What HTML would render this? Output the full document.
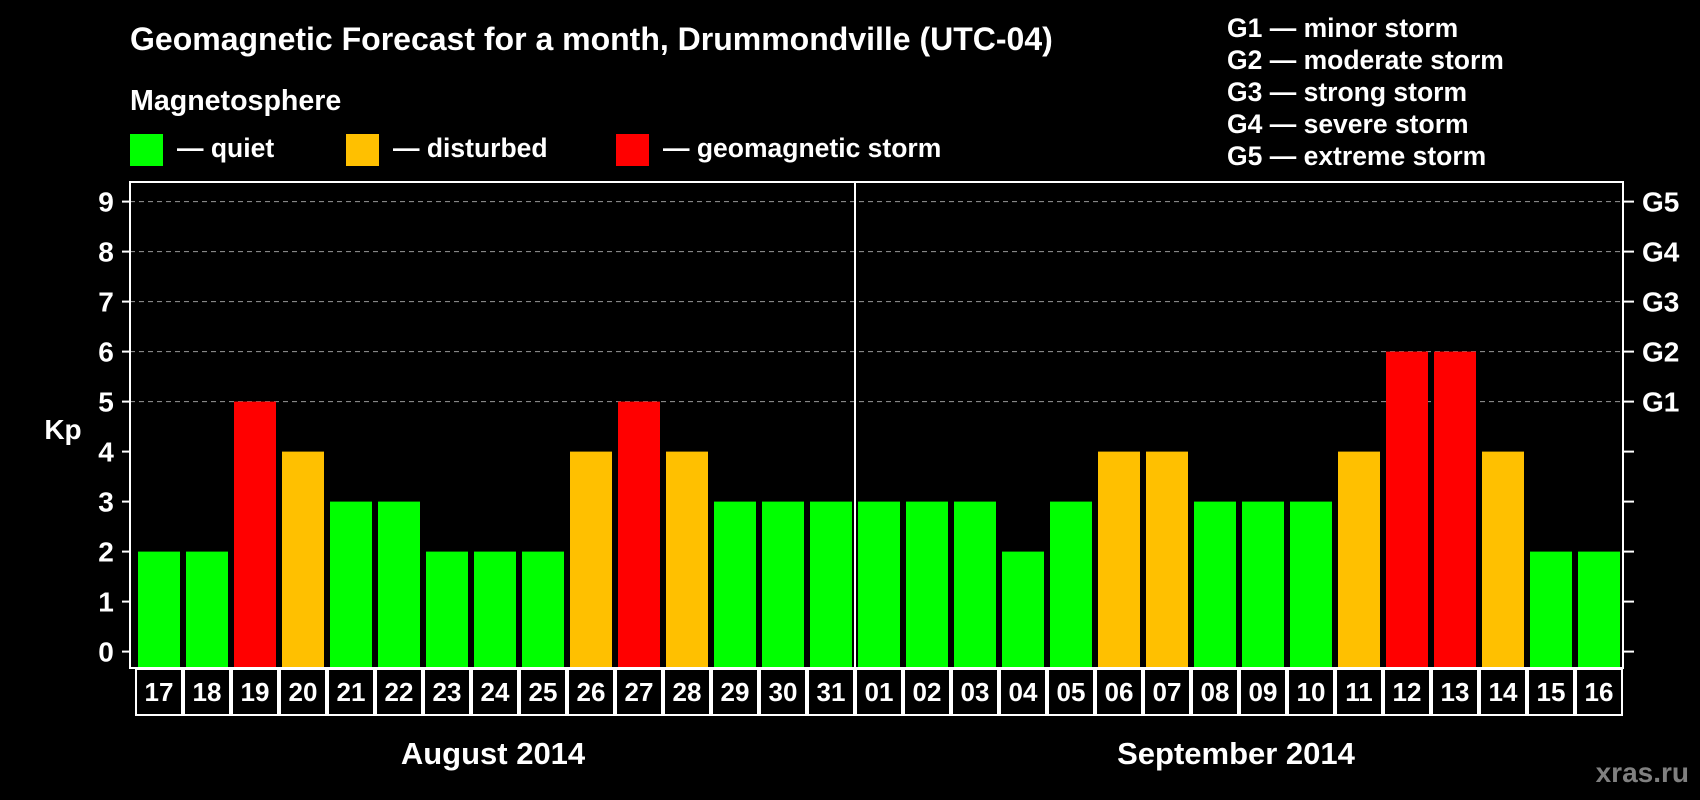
<!DOCTYPE html>
<html><head><meta charset="utf-8"><style>
html,body{margin:0;padding:0;background:#000;}
svg{display:block;font-family:"Liberation Sans",Arial,sans-serif;font-weight:bold;}
</style></head><body>
<svg id="chart" width="1700" height="800" viewBox="0 0 1700 800">
<rect x="0" y="0" width="1700" height="800" fill="#000"/>
<text x="130" y="50" fill="#fff" font-size="32">Geomagnetic Forecast for a month, Drummondville (UTC-04)</text>
<text x="130" y="110" fill="#fff" font-size="28.6">Magnetosphere</text>
<g><rect x="130" y="134" width="33" height="32" fill="#00ff00"/><text x="177" y="157" fill="#fff" font-size="26.5">— quiet</text></g>
<g><rect x="346" y="134" width="33" height="32" fill="#ffc000"/><text x="393" y="157" fill="#fff" font-size="26.5">— disturbed</text></g>
<g><rect x="616" y="134" width="33" height="32" fill="#ff0000"/><text x="663" y="157" fill="#fff" font-size="26.5">— geomagnetic storm</text></g>
<g fill="#fff" font-size="26.5">
<text x="1227" y="37">G1 — minor storm</text>
<text x="1227" y="69">G2 — moderate storm</text>
<text x="1227" y="101">G3 — strong storm</text>
<text x="1227" y="133">G4 — severe storm</text>
<text x="1227" y="165">G5 — extreme storm</text>
</g>
<g id="plot"></g>
<text x="493" y="764" fill="#fff" font-size="31" text-anchor="middle">August 2014</text>
<text x="1236" y="764" fill="#fff" font-size="31" text-anchor="middle">September 2014</text>
<text x="1689" y="782" fill="#808080" font-size="28" text-anchor="end">xras.ru</text>
</svg>
<script>
const days = ["17","18","19","20","21","22","23","24","25","26","27","28","29","30","31","01","02","03","04","05","06","07","08","09","10","11","12","13","14","15","16"];
const kpValues = [2,2,5,4,3,3,2,2,2,4,5,4,3,3,3,3,3,3,2,3,4,4,3,3,3,4,6,6,4,2,2];
const yTicks = [0,1,2,3,4,5,6,7,8,9];
const gLabels = ["G1","G2","G3","G4","G5"];
const gLevels = [5,6,7,8,9];

(function(){
const NS = "http://www.w3.org/2000/svg";
const plot = document.getElementById('plot');
const pLeft = 130, pRight = 1623, pTop = 182, pBottom = 668;
const y0 = 651.6, unit = 50;
const barX0 = 138, pitch = 48, barW = 42;
function yScale(v){ return y0 - v * unit; }
function xScale(i){ return barX0 + i * pitch; }
function mk(tag, attrs){ const e = document.createElementNS(NS, tag); for (const k in attrs) e.setAttribute(k, attrs[k]); plot.appendChild(e); return e; }
function color(v){ return v >= 5 ? "#ff0000" : (v >= 4 ? "#ffc000" : "#00ff00"); }

gLevels.forEach(function(v){
  const l = mk('line', {x1:pLeft, x2:pRight, y1:yScale(v), y2:yScale(v), stroke:"#999", "stroke-width":1, "stroke-dasharray":"5,4"});
  
  
});
kpValues.forEach(function(v, i){
  const r = mk('rect', {x:xScale(i), y:yScale(v), width:barW, height:pBottom - yScale(v), fill:color(v)});
  
  
});
const fr = mk('rect', {x:pLeft, y:pTop, width:pRight-pLeft, height:pBottom-pTop, fill:"none", stroke:"#fff", "stroke-width":2});


const divX = xScale(15) - 3;
const dv = mk('line', {x1:divX, x2:divX, y1:pTop, y2:pBottom, stroke:"#fff", "stroke-width":2});


yTicks.forEach(function(v){
  const y = yScale(v);
  const t1 = mk('line', {x1:122, x2:pLeft, y1:y, y2:y, stroke:"#fff", "stroke-width":2});
  
  
  const t2 = mk('line', {x1:pRight, x2:1634, y1:y, y2:y, stroke:"#fff", "stroke-width":2});
  
  
  const tx = mk('text', {x:106, y:y+10, fill:"#fff", "font-size":28, "text-anchor":"middle"});
  tx.textContent = v;
  
  
});
gLabels.forEach(function(g, i){
  const tx = mk('text', {x:1642, y:yScale(gLevels[i])+10, fill:"#fff", "font-size":28});
  tx.textContent = g;
  
  
});
const kp = mk('text', {x:63, y:439, fill:"#fff", "font-size":28, "text-anchor":"middle"});
kp.textContent = "Kp";


days.forEach(function(d, i){
  const bx = xScale(i) - 3;
  const r = mk('rect', {x:bx+1, y:pBottom+1, width:pitch-2, height:46, fill:"none", stroke:"#fff", "stroke-width":2});
  
  
  const tx = mk('text', {x:bx + pitch/2, y:pBottom+33, fill:"#fff", "font-size":26, "text-anchor":"middle"});
  tx.textContent = d;
  
  
});
})();
</script>
</body></html>
